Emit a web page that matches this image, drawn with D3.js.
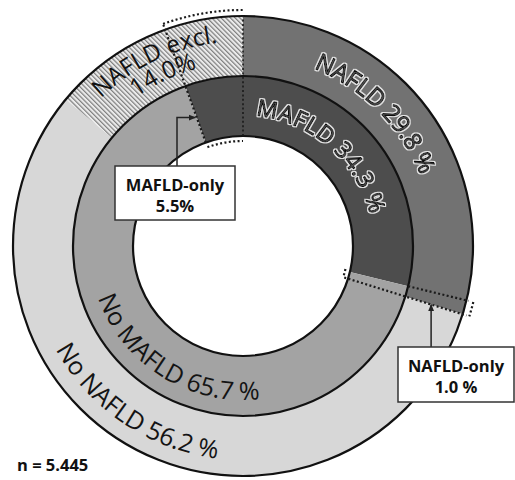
<!DOCTYPE html>
<html>
<head>
<meta charset="utf-8">
<script src="https://cdn.jsdelivr.net/npm/d3@7"></script>
<style>
  html, body { margin: 0; padding: 0; background: #ffffff; }
  svg { display: block; }
</style>
</head>
<body>
<script>
// ---- data ----
const outerCategories = ["NAFLD", "No NAFLD", "NAFLD excl."];
const outerValues = [29.8, 56.2, 14.0];
const innerCategories = ["MAFLD", "No MAFLD"];
const innerValues = [34.3, 65.7];
const mafldOnlyShare = 5.5;   // inner ring starts this far before the top
const nafldOnlyShare = 1.0;
const calloutTitles = ["MAFLD-only", "NAFLD-only"];
const calloutValues = ["5.5%", "1.0 %"];
const outerLabelText = ["NAFLD 29.8 %", "No NAFLD 56.2 %", "NAFLD excl.|14.0%"];
const innerLabelText = ["MAFLD 34.3 %", "No MAFLD 65.7 %"];
const sampleLabel = "n = 5.445";

// ---- layout ----
const W = 515, H = 480;
const cx = 243, cy = 246;
const rOuter = 230, rMid = 170, rHole = 110;
const FONT = "'Open Sans', 'Noto Sans', sans-serif";

const svg = d3.select("body").append("svg").attr("width", W).attr("height", H);
const defs = svg.append("defs");

const hatch = defs.append("pattern").attr("id", "hatch")
  .attr("patternUnits", "userSpaceOnUse").attr("width", 3.3).attr("height", 3.3)
  .attr("patternTransform", "rotate(-45)");
hatch.append("rect").attr("width", 3.3).attr("height", 3.3).attr("fill", "#ebebeb");
hatch.append("line").attr("x1", 0.6).attr("y1", 0).attr("x2", 0.6).attr("y2", 3.3)
  .attr("stroke", "#7e7e7e").attr("stroke-width", 1.2);

// light halo for the embossed labels
const halo = defs.append("filter").attr("id", "halo")
  .attr("x", "-10%").attr("y", "-30%").attr("width", "120%").attr("height", "160%");
halo.append("feMorphology").attr("in", "SourceAlpha").attr("operator", "dilate")
  .attr("radius", 1.3).attr("result", "d");
halo.append("feFlood").attr("flood-color", "#e4e4e4").attr("result", "c");
halo.append("feComposite").attr("in", "c").attr("in2", "d").attr("operator", "in").attr("result", "h");
const hm = halo.append("feMerge");
hm.append("feMergeNode").attr("in", "h");
hm.append("feMergeNode").attr("in", "SourceGraphic");

defs.append("marker").attr("id", "arrow").attr("viewBox", "0 0 10 10")
  .attr("refX", 9).attr("refY", 5).attr("markerWidth", 5).attr("markerHeight", 5)
  .attr("orient", "auto")
  .append("path").attr("d", "M0,1 L10,5 L0,9 Z").attr("fill", "#222");

const g = svg.append("g").attr("transform", `translate(${cx},${cy})`);

// percent -> radians / degrees (clockwise from top)
const ang = d3.scaleLinear().domain([0, 100]).range([0, 2 * Math.PI]);
const deg = d3.scaleLinear().domain([0, 100]).range([0, 360]);

const outerColor = d3.scaleOrdinal().domain(outerCategories)
  .range(["#727272", "#d7d7d7", "url(#hatch)"]);
const innerColor = d3.scaleOrdinal().domain(innerCategories)
  .range(["#4d4d4d", "#a3a3a3"]);

const outerPie = d3.pie().sort(null).value(d => d.v)
  .startAngle(0).endAngle(2 * Math.PI)(outerCategories.map((c, i) => ({ c, v: outerValues[i] })));
const innerStart = -ang(mafldOnlyShare);
const innerPie = d3.pie().sort(null).value(d => d.v)
  .startAngle(innerStart).endAngle(innerStart + 2 * Math.PI)(innerCategories.map((c, i) => ({ c, v: innerValues[i] })));

const outerArc = d3.arc().innerRadius(rMid).outerRadius(rOuter);
const innerArc = d3.arc().innerRadius(rHole).outerRadius(rMid);

g.selectAll("path.outer").data(outerPie).join("path").attr("class", "outer")
  .attr("d", outerArc).attr("fill", d => outerColor(d.data.c));
g.selectAll("path.inner").data(innerPie).join("path").attr("class", "inner")
  .attr("d", innerArc).attr("fill", d => innerColor(d.data.c));

// ring outlines
[rOuter, rMid, rHole].forEach(r => {
  g.append("circle").attr("r", r).attr("fill", "none").attr("stroke", "#111").attr("stroke-width", 2.2);
});

// helpers
const polar = (a, r) => [r * Math.sin(a), -r * Math.cos(a)];
function arcPathDeg(r, a0, a1) {
  const s = (a0 - 90) * Math.PI / 180, e = (a1 - 90) * Math.PI / 180;
  const p = d3.path();
  p.moveTo(r * Math.cos(s), r * Math.sin(s));
  p.arc(0, 0, r, s, e, a1 < a0);
  return p.toString();
}
const dotted = sel => sel.attr("fill", "none").attr("stroke", "#1a1a1a")
  .attr("stroke-width", 2.2).attr("stroke-dasharray", "2 2.4");

// MAFLD-only wedge (dotted outline)
const mA0 = innerStart, mA1 = 0;
g.append("path").attr("d", arcPathDeg(rOuter + 6, deg(-mafldOnlyShare), 0)).call(dotted);
g.append("path").attr("d", arcPathDeg(rHole - 5, deg(-mafldOnlyShare), 0)).call(dotted);
g.append("line").attr("x1", polar(mA0, rHole)[0]).attr("y1", polar(mA0, rHole)[1])
  .attr("x2", polar(mA0, rOuter + 5)[0]).attr("y2", polar(mA0, rOuter + 5)[1]).call(dotted);
g.append("line").attr("x1", polar(mA1, rHole)[0]).attr("y1", polar(mA1, rHole)[1])
  .attr("x2", polar(mA1, rOuter)[0]).attr("y2", polar(mA1, rOuter)[1]).call(dotted).attr("stroke-width", 1.6);

// NAFLD-only wedge
const nA1 = outerPie[0].endAngle;            // end of NAFLD
const nA0 = nA1 - ang(nafldOnlyShare);       // end of MAFLD
g.append("line").attr("x1", polar(nA0, rMid)[0]).attr("y1", polar(nA0, rMid)[1])
  .attr("x2", polar(nA0, rOuter + 2)[0]).attr("y2", polar(nA0, rOuter + 2)[1]).call(dotted);
g.append("line").attr("x1", polar(nA1, rHole - 4)[0]).attr("y1", polar(nA1, rHole - 4)[1])
  .attr("x2", polar(nA1, rOuter + 4)[0]).attr("y2", polar(nA1, rOuter + 4)[1]).call(dotted);
const nD0 = nA0 * 180 / Math.PI, nD1 = nA1 * 180 / Math.PI;
g.append("path").attr("d", arcPathDeg(rOuter + 7, nD0, nD1)).call(dotted);
g.append("path").attr("d", arcPathDeg(rHole - 5, nD0 - 1, nD1)).call(dotted);

// curved labels
let pid = 0;
function curvedText(text, centerDeg, r, clockwise, size, styleFn) {
  const id = "lp" + (pid++);
  const a0 = clockwise ? centerDeg - 85 : centerDeg + 85;
  const a1 = clockwise ? centerDeg + 85 : centerDeg - 85;
  defs.append("path").attr("id", id).attr("d", arcPathDeg(r, a0, a1));
  const t = g.append("text").attr("font-family", FONT).attr("font-size", size);
  t.append("textPath").attr("href", "#" + id).attr("startOffset", "50%")
    .attr("text-anchor", "middle").text(text);
  styleFn(t);
  return t;
}
const embossedStyle = t => t.attr("fill", "#5c5c5c").attr("stroke", "#0d0d0d")
  .attr("stroke-width", 1.1).attr("stroke-linejoin", "round").attr("filter", "url(#halo)");
const plain = t => t.attr("fill", "#141414");

curvedText(outerLabelText[0], 45, 191, true, 24, embossedStyle);
curvedText(innerLabelText[0], 41, 131, true, 23, t => { embossedStyle(t); t.attr("letter-spacing", 0.8); });
curvedText(outerLabelText[1], 214, 214, false, 25, plain);
curvedText(innerLabelText[1], 212, 154, false, 25, plain);
const exclLines = outerLabelText[2].split("|");
curvedText(exclLines[0], -25.5, 205, true, 24, t => t.attr("fill", "#111"));
curvedText(exclLines[1], -25, 183, true, 24, t => t.attr("fill", "#111"));

// callouts
function callout(x, y, w, h, title, value) {
  svg.append("rect").attr("x", x).attr("y", y).attr("width", w).attr("height", h)
    .attr("fill", "#fff").attr("stroke", "#333").attr("stroke-width", 1.5);
  const t = svg.append("text").attr("font-family", FONT).attr("font-weight", 700)
    .attr("font-size", 16.5).attr("fill", "#111").attr("text-anchor", "middle");
  t.append("tspan").attr("x", x + w / 2).attr("y", y + 25).text(title);
  t.append("tspan").attr("x", x + w / 2).attr("y", y + 46).text(value);
}

// MAFLD-only arrow
const mTarget = polar(innerStart - 0.01, 137);
const mx = cx + mTarget[0], my = cy + mTarget[1];
svg.append("path").attr("d", `M177,166 L177,${my} L${mx},${my}`)
  .attr("fill", "none").attr("stroke", "#222").attr("stroke-width", 1.5)
  .attr("marker-end", "url(#arrow)");
callout(115, 166, 120, 54, calloutTitles[0], calloutValues[0]);

// NAFLD-only arrow
const nTarget = polar(nA1, 197);
const nx = cx + nTarget[0], ny = cy + nTarget[1];
svg.append("path").attr("d", `M${nx},347 L${nx},${ny}`)
  .attr("fill", "none").attr("stroke", "#222").attr("stroke-width", 1.5)
  .attr("marker-end", "url(#arrow)");
callout(398, 347, 116, 55, calloutTitles[1], calloutValues[1]);

svg.append("text").attr("x", 17).attr("y", 471).attr("font-family", FONT)
  .attr("font-weight", 700).attr("font-size", 16.5).attr("fill", "#111").text(sampleLabel);
</script>
</body>
</html>
